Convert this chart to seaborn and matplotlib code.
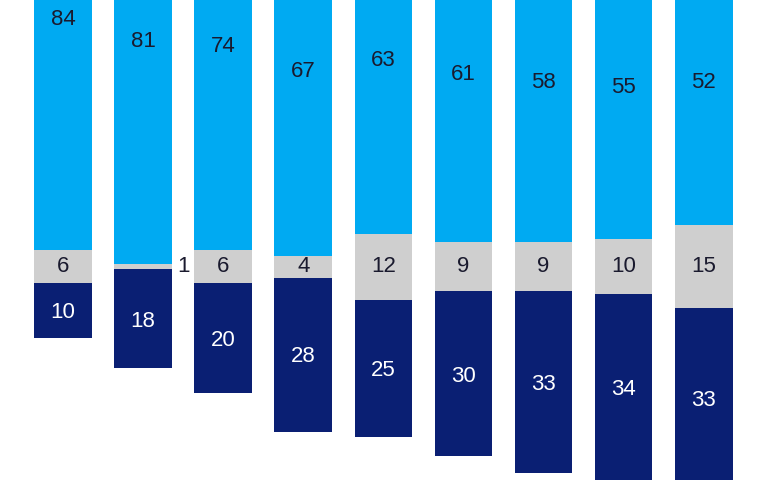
import pandas as pd
import numpy as np
import seaborn as sns
import matplotlib.pyplot as plt

groups = ["A", "B", "C", "D", "E", "F", "G", "H", "I"]
positive = [84, 81, 74, 67, 63, 61, 58, 55, 52]
neutral = [6, 1, 6, 4, 12, 9, 9, 10, 15]
negative = [10, 18, 20, 28, 25, 30, 33, 34, 33]

c_pos = "#00aaf2"
c_neu = "#cfcfcf"
c_neg = "#0a1f73"

df = pd.DataFrame({"group": groups, "pos": positive, "neu": neutral, "neg": negative})
half = df["neu"] / 2

sns.set_style("white")
plt.rcParams["font.family"] = ["Liberation Sans", "DejaVu Sans"]

fig = plt.figure(figsize=(7.67, 4.8), dpi=100)
ax = fig.add_axes([0, 0, 1, 1])

w = 0.72
sns.barplot(x="group", y="pos", data=df, order=groups, color=c_pos, width=w,
            bottom=half.values, linewidth=0, saturation=1, ax=ax)
sns.barplot(x="group", y="neu", data=df, order=groups, color=c_neu, width=w,
            bottom=-half.values, linewidth=0, saturation=1, ax=ax)
neg_h = -df["neg"]
sns.barplot(x=df["group"], y=neg_h, order=groups, color=c_neg, width=w,
            bottom=-half.values, linewidth=0, saturation=1, ax=ax)

fs = 16
for i in range(len(groups)):
    h = half[i]
    ax.text(i, h + positive[i] / 2, str(positive[i]), ha="center", va="center",
            fontsize=fs, color="#1a1a2e")
    if neutral[i] >= 3:
        ax.text(i, 0, str(neutral[i]), ha="center", va="center", fontsize=fs, color="#1a1a2e")
    else:
        ax.text(i + 0.42, 0, str(neutral[i]), ha="left", va="center", fontsize=fs, color="#1a1a2e")
    ax.text(i, -h - negative[i] / 2 - 0.4, str(negative[i]), ha="center", va="center",
            fontsize=fs, color="white")

ax.set_xlim(-0.787, 8.79)
ax.set_ylim(-38.8, 48.5)
ax.axis("off")

plt.savefig("out.png", dpi=100)
